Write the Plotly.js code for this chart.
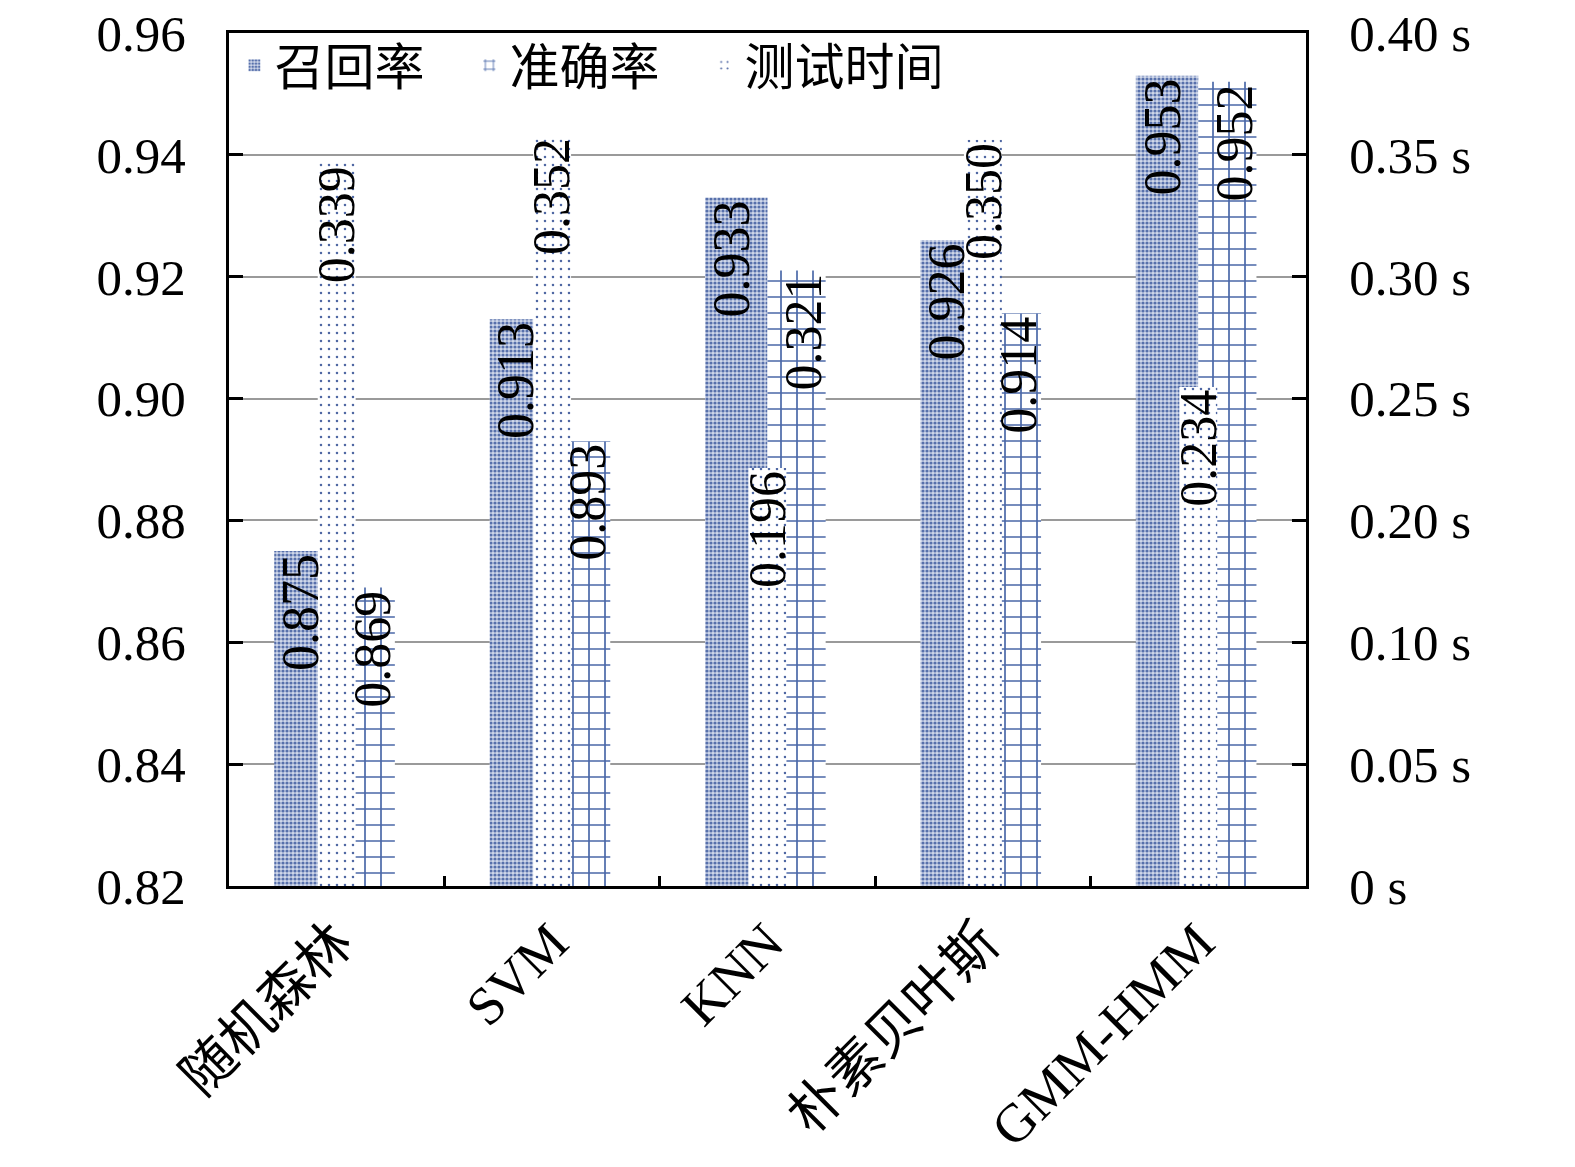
<!DOCTYPE html>
<html>
<head>
<meta charset="utf-8">
<script src="https://cdn.plot.ly/plotly-3.0.1.min.js"></script>
<style>
  body { margin: 0; background: #fff; }
  #chart { width: 1575px; height: 1167px; }
</style>
</head>
<body>
<div id="chart"></div>
<script>
var models = ['随机森林', 'SVM', 'KNN', '朴素贝叶斯', 'GMM-HMM'];
var recall = [0.875, 0.913, 0.933, 0.926, 0.953];
var accuracy = [0.869, 0.893, 0.921, 0.914, 0.952];
var accuracyLabels = ['0.869', '0.893', '0.321', '0.914', '0.952'];
var testTime = [0.339, 0.352, 0.196, 0.350, 0.234];
// right axis labels sit on the left-axis gridlines, as in the original figure
var timeTickVals = [0, 0.0571, 0.1143, 0.1714, 0.2286, 0.2857, 0.3429, 0.4];
var timeTickText = ['0 s', '0.05 s', '0.10 s', '0.20 s', '0.25 s', '0.30 s', '0.35 s', '0.40 s'];

var serif = 'Liberation Serif, Times New Roman, Noto Sans CJK SC, serif';
var labelFont = {family: serif, size: 52, color: '#000'};

var trace1 = {
  x: models,
  y: recall,
  name: '召回率',
  type: 'bar',
  offset: -0.29,
  width: 0.29,
  marker: {
    color: '#d0d8ea',
    pattern: {shape: '.', size: 4, solidity: 0.5, fgcolor: '#5770ab', bgcolor: '#d0d8ea'},
    line: {width: 0}
  }
};

var trace2 = {
  x: models,
  y: accuracy,
  name: '准确率',
  type: 'bar',
  offset: 0.0,
  width: 0.27,
  marker: {
    color: '#ffffff',
    pattern: {shape: '+', size: 16, solidity: 0.2, fgcolor: '#4a68a8', bgcolor: '#ffffff'},
    line: {width: 0}
  }
};

var trace3 = {
  x: models,
  y: testTime,
  name: '测试时间',
  type: 'bar',
  yaxis: 'y2',
  offset: -0.088,
  width: 0.176,
  marker: {
    color: '#ffffff',
    pattern: {shape: '.', size: 8, solidity: 0.08, fgcolor: '#4f67a3', bgcolor: '#ffffff'},
    line: {width: 0}
  }
};

var data = [trace1, trace2, trace3];

// value labels drawn above all bars
function labels(vals, texts, yref, shift) {
  return vals.map(function (v, i) {
    return {
      x: models[i], y: v, xref: 'x', yref: yref,
      text: texts[i], showarrow: false, textangle: -90,
      xanchor: 'center', yanchor: 'top',
      xshift: shift, yshift: -1,
      font: labelFont
    };
  });
}
var annotations = []
  .concat(labels(recall, recall.map(function (v) { return v.toFixed(3); }), 'y', -36))
  .concat(labels(accuracy, accuracyLabels, 'y', 36))
  .concat(labels(testTime, testTime.map(function (v) { return v.toFixed(3); }), 'y2', 0));

var layout = {
  width: 1575,
  height: 1167,
  margin: {l: 229, r: 269, t: 33, b: 281},
  paper_bgcolor: '#fff',
  plot_bgcolor: '#fff',
  barmode: 'overlay',
  showlegend: true,
  legend: {
    orientation: 'h',
    x: 0.005, y: 1.008,
    xanchor: 'left', yanchor: 'top',
    bgcolor: 'rgba(0,0,0,0)',
    font: {family: serif, size: 50, color: '#000'},
    itemwidth: 30,
    entrywidth: 190,
    traceorder: 'normal'
  },
  annotations: annotations,
  xaxis: {
    type: 'category',
    showline: true, linecolor: '#000', linewidth: 3, mirror: true,
    ticks: 'inside', tickson: 'boundaries', ticklen: 10, tickwidth: 3, tickcolor: '#000',
    tickangle: -45,
    tickfont: {family: serif, size: 54, color: '#000'},
    showgrid: false
  },
  yaxis: {
    range: [0.82, 0.96],
    dtick: 0.02,
    tickformat: '.2f',
    showline: true, linecolor: '#000', linewidth: 3, mirror: true,
    ticks: 'inside', ticklen: 14, tickwidth: 3, tickcolor: '#000',
    ticklabelstandoff: 30,
    tickfont: {family: serif, size: 51, color: '#000'},
    showgrid: true, gridcolor: '#9a9a9a', gridwidth: 2,
    zeroline: false
  },
  yaxis2: {
    overlaying: 'y',
    side: 'right',
    range: [0, 0.40],
    tickvals: timeTickVals,
    ticktext: timeTickText,
    showline: true, linecolor: '#000', linewidth: 3,
    ticks: 'inside', ticklen: 14, tickwidth: 3, tickcolor: '#000',
    ticklabelstandoff: 30,
    tickfont: {family: serif, size: 51, color: '#000'},
    showgrid: false,
    zeroline: false
  }
};

Plotly.newPlot('chart', data, layout, {staticPlot: true});
</script>
</body>
</html>
